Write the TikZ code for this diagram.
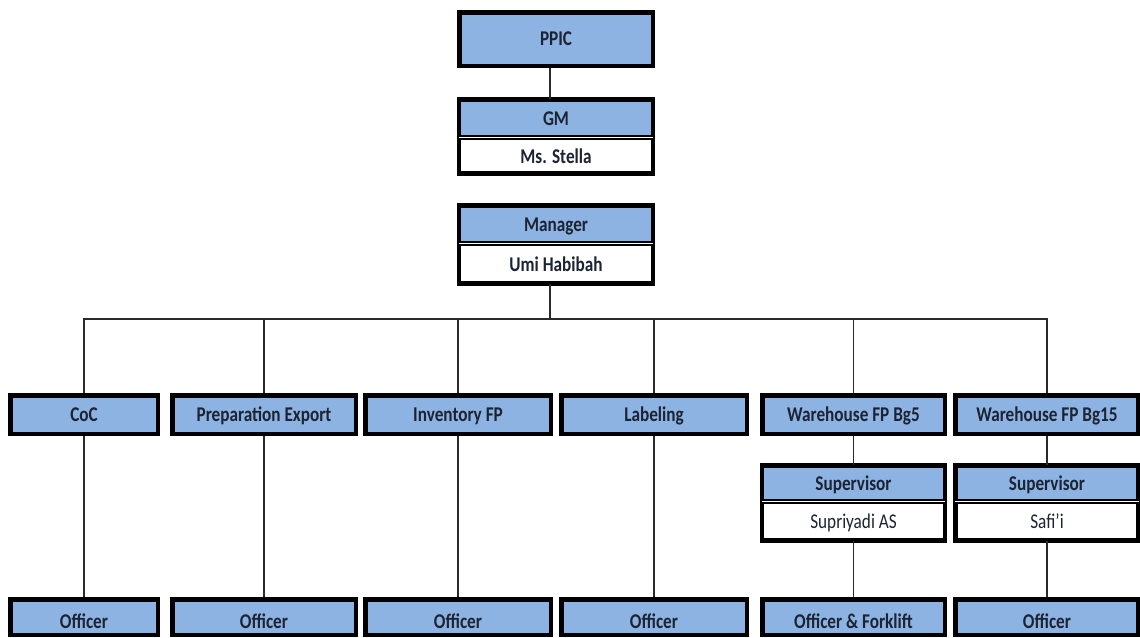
\documentclass[tikz,border=0pt]{standalone}
\usepackage{fontspec}
\usepackage{graphicx}
\setmainfont{Carlito}
\definecolor{hdr}{HTML}{8DB3E2}
\definecolor{txt}{HTML}{1C2333}
\definecolor{conncol}{HTML}{2A2A2A}
\newcommand{\vs}[1]{\scalebox{1}[1.22]{#1}}
\tikzset{
  x=1pt,y=1pt,
  fnt/.style={font=\fontsize{17.2}{17.2}\selectfont, text=txt, text height=16pt, text depth=2.5pt},
  box/.style={draw=black, line width=4.5pt, fill=hdr, inner sep=0pt, fnt, font=\bfseries\fontsize{17.2}{17.2}\selectfont},
  offbox/.style={box, text height=24pt, text depth=1.5pt},
  hpart/.style={fill=hdr, inner sep=0pt, anchor=north, fnt, font=\bfseries\fontsize{17.2}{17.2}\selectfont},
  npart/.style={fill=white, inner sep=0pt, anchor=north, fnt, text height=16pt, text depth=0.5pt},
  frame/.style={draw=black, line width=4.5pt},
  divider/.style={draw=black, double=white, double distance=1.2pt, line width=1.8pt},
  conn/.style={draw=conncol, line width=1.1pt},
}
\begin{document}
\begin{tikzpicture}
\useasboundingbox[fill=white] (0,0) rectangle (1140,-637);

% top
\node[box, minimum width=193.5, minimum height=53.5] (ppic) at (556,-39) {\vs{PPIC}};

\node[hpart, minimum width=193.5, minimum height=37.75] (gm) at (556,-99.25) {\vs{GM}};
\node[npart, minimum width=193.5, minimum height=35.75, font=\bfseries\fontsize{17.2}{17.2}\selectfont] (gmname) at (gm.south) {\vs{Ms. Stella}};
\draw[frame] (gm.north west) rectangle (gmname.south east);
\draw[divider] (gm.south west) -- (gm.south east);

\node[hpart, minimum width=193.5, minimum height=37.75] (mgr) at (556,-205.25) {\vs{Manager}};
\node[npart, minimum width=193.5, minimum height=39.75, font=\bfseries\fontsize{17.2}{17.2}\selectfont] (mgrname) at (mgr.south) {\vs{Umi Habibah}};
\draw[frame] (mgr.north west) rectangle (mgrname.south east);
\draw[divider] (mgr.south west) -- (mgr.south east);

% second row
\node[box, minimum width=147.5, minimum height=38.5] (coc) at (84,-414.5) {\vs{CoC}};
\node[box, minimum width=183.5, minimum height=38.5] (prep) at (264,-414.5) {\vs{Preparation Export}};
\node[box, minimum width=185.5, minimum height=38.5] (inv) at (458,-414.5) {\vs{Inventory FP}};
\node[box, minimum width=185.5, minimum height=38.5] (lab) at (654,-414.5) {\vs{Labeling}};
\node[box, minimum width=182.5, minimum height=38.5] (wh5) at (853.5,-414.5) {\vs{Warehouse FP Bg5}};
\node[box, minimum width=183, minimum height=38.5] (wh15) at (1047,-414.5) {\vs{Warehouse FP Bg15}};

% supervisors
\node[hpart, minimum width=182.5, minimum height=35.75] (sup5) at (853.5,-465.25) {\vs{Supervisor}};
\node[npart, minimum width=182.5, minimum height=38.75] (sup5name) at (sup5.south) {\vs{Supriyadi AS}};
\draw[frame] (sup5.north west) rectangle (sup5name.south east);
\draw[divider] (sup5.south west) -- (sup5.south east);

\node[hpart, minimum width=183, minimum height=35.75] (sup15) at (1047,-465.25) {\vs{Supervisor}};
\node[npart, minimum width=183, minimum height=38.75] (sup15name) at (sup15.south) {\vs{Safi'i}};
\draw[frame] (sup15.north west) rectangle (sup15name.south east);
\draw[divider] (sup15.south west) -- (sup15.south east);

% officers
\node[offbox, minimum width=147.5, minimum height=35.5] (off1) at (84,-617) {\vs{Officer}};
\node[offbox, minimum width=183.5, minimum height=35.5] (off2) at (264,-617) {\vs{Officer}};
\node[offbox, minimum width=185.5, minimum height=35.5] (off3) at (458,-617) {\vs{Officer}};
\node[offbox, minimum width=185.5, minimum height=35.5] (off4) at (654,-617) {\vs{Officer}};
\node[offbox, minimum width=182.5, minimum height=35.5] (off5) at (853.5,-617) {\vs{Officer \& Forklift}};
\node[offbox, minimum width=183, minimum height=35.5] (off6) at (1047,-617) {\vs{Officer}};

% connectors
\coordinate (bus) at (550,-319);
\draw[conn] ([xshift=-6pt]ppic.south) -- ([xshift=-6pt]gm.north);
\draw[conn] ([xshift=-6pt]mgrname.south) -- (bus);
\draw[conn] (coc.north) |- (bus) -| (wh15.north);
\draw[conn] (prep.north) -- (prep.north |- bus);
\draw[conn] (inv.north) -- (inv.north |- bus);
\draw[conn] (lab.north) -- (lab.north |- bus);
\draw[conn] (wh5.north) -- (wh5.north |- bus);

\draw[conn] (coc.south) -- (off1.north);
\draw[conn] (prep.south) -- (off2.north);
\draw[conn] (inv.south) -- (off3.north);
\draw[conn] (lab.south) -- (off4.north);
\draw[conn] (wh5.south) -- (sup5.north);
\draw[conn] (sup5name.south) -- (off5.north);
\draw[conn] (wh15.south) -- (sup15.north);
\draw[conn] (sup15name.south) -- (off6.north);
\end{tikzpicture}
\end{document}
